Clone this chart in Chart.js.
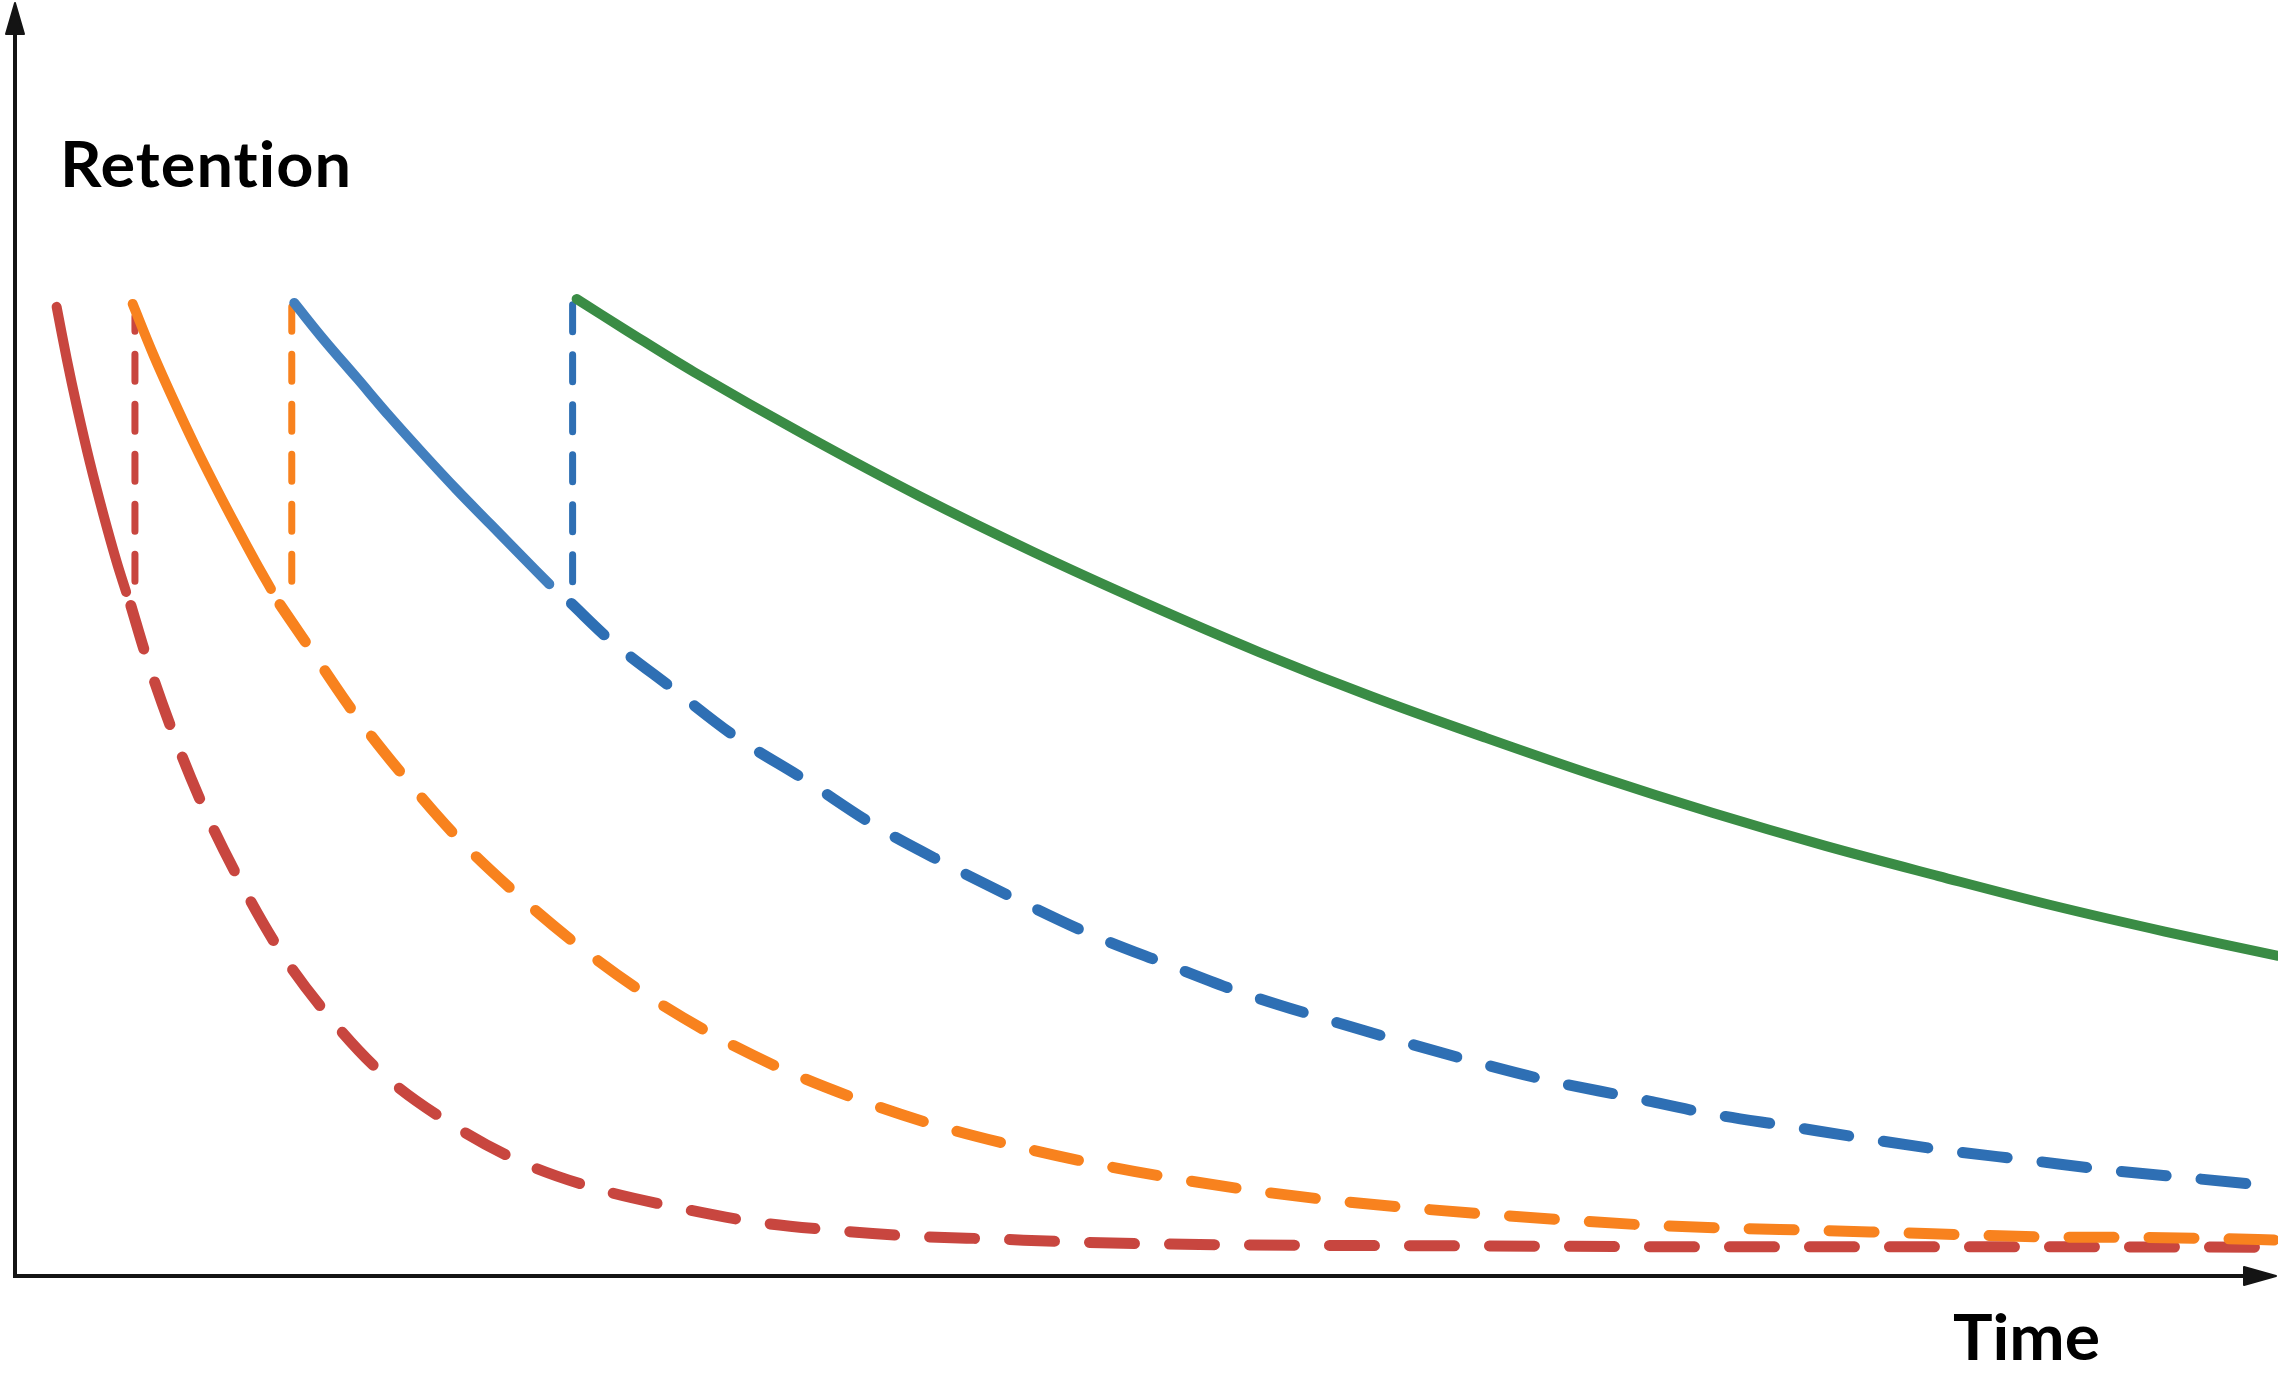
<!DOCTYPE html>
<html>
<head>
<meta charset="utf-8">
<title>Retention</title>
<script src="https://cdn.jsdelivr.net/npm/chart.js@4.4.1/dist/chart.umd.min.js"></script>
<style>
  html, body { margin: 0; padding: 0; background: #ffffff; }
  canvas { display: block; }
</style>
</head>
<body>
<canvas id="myChart" width="2278" height="1388"></canvas>
<script>
// Time runs 0-100 along the axis, retention is % (100 = fresh memory)

// first study
const redSolidTime = [1.84, 2.29, 2.73, 3.31, 3.90, 4.49, 4.91];
const redSolidRet  = [99.6, 94.2, 89.4, 83.6, 78.3, 73.4, 70.3];
const redReviewTime = [5.30, 5.30];
const redReviewRet  = [71.4, 98.6];
const redForgetTime = [5.12, 5.82, 7.00, 8.36, 9.93, 11.71, 13.82, 16.27, 19.15, 22.28, 25.66, 29.13, 32.57, 36.18, 39.67, 43.28, 46.77, 50.38, 57.60, 63.54, 76.38, 89.22, 100];
const redForgetRet  = [68.9, 63.5, 55.7, 48.0, 40.6, 33.4, 26.8, 20.7, 15.8, 11.8, 9.0, 7.1, 5.6, 4.7, 4.1, 3.8, 3.5, 3.3, 3.15, 3.1, 3.0, 3.0, 2.96];

// first review
const orangeSolidTime = [5.20, 6.11, 7.05, 8.00, 8.93, 9.81, 10.65, 11.31];
const orangeSolidRet  = [99.9, 94.7, 89.8, 85.1, 80.8, 76.9, 73.3, 70.6];
const orangeReviewTime = [12.23, 12.23];
const orangeReviewRet  = [71.4, 99.6];
const orangeForgetTime = [11.71, 12.97, 15.00, 17.20, 19.57, 22.10, 24.81, 27.77, 30.76, 33.97, 37.30, 40.68, 44.12, 47.58, 51.06, 54.66, 58.14, 61.65, 65.27, 68.89, 72.40, 76.01, 79.51, 83.13, 86.74, 90.24, 93.74, 97.35, 100];
const orangeForgetRet  = [69.0, 64.7, 57.8, 51.3, 45.0, 39.4, 34.1, 29.1, 24.9, 21.2, 18.1, 15.5, 13.4, 11.6, 10.1, 8.8, 7.8, 7.0, 6.3, 5.7, 5.2, 4.9, 4.7, 4.45, 4.2, 4.0, 3.97, 3.84, 3.7];

// second review
const blueSolidTime = [12.34, 13.62, 15.10, 16.57, 18.04, 19.52, 20.99, 22.46, 23.61];
const blueSolidRet  = [100.0, 96.3, 92.3, 88.3, 84.5, 80.8, 77.3, 73.8, 71.1];
const blueReviewTime = [24.64, 24.64];
const blueReviewRet  = [71.35, 100.7];
const blueForgetTime = [24.59, 26.22, 29.04, 31.85, 34.90, 37.99, 41.09, 44.25, 47.45, 50.83, 54.10, 57.48, 60.98, 64.35, 67.73, 71.34, 74.84, 78.35, 81.84, 85.34, 88.96, 92.46, 95.96, 100];
const blueForgetRet  = [69.1, 65.5, 60.4, 55.4, 51.0, 46.3, 42.4, 38.7, 35.2, 32.1, 29.2, 26.7, 24.3, 22.1, 20.1, 18.4, 16.7, 15.4, 14.1, 12.9, 11.9, 10.9, 10.1, 9.2];

// third review
const greenTime = [24.82, 27.0, 30.0, 35.0, 40.0, 45.0, 50.0, 55.0, 60.0, 65.0, 70.0, 75.0, 80.0, 85.0, 90.0, 95.0, 100];
const greenRet  = [100.4, 97.2, 92.9, 86.3, 80.1, 74.4, 69.1, 64.1, 59.5, 55.3, 51.3, 47.6, 44.2, 41.1, 38.1, 35.4, 32.9];

const axisLabelY = 'Retention';
const axisLabelX = 'Time';

function puntos(tiempos, valores) {
  return tiempos.map((t, i) => ({ x: t, y: valores[i] }));
}

function serie(tiempos, valores, color, tipo) {
  const ds = {
    data: puntos(tiempos, valores),
    borderColor: color,
    borderCapStyle: 'round',
    borderJoinStyle: 'round',
    pointRadius: 0,
    fill: false
  };
  if (tipo === 'solid') {
    ds.borderWidth = 10;
    ds.tension = 0.35;
  } else if (tipo === 'forget') {
    ds.borderWidth = 11;
    ds.borderDash = [45, 35];
    ds.cubicInterpolationMode = 'monotone';
  } else {
    ds.borderWidth = 7;
    ds.borderDash = [27, 23];
    ds.tension = 0;
  }
  return ds;
}

// axes with arrowheads + labels
const ejes = {
  id: 'ejes',
  beforeDatasetsDraw(chart) {
    const ctx = chart.ctx;
    const area = chart.chartArea;
    const x0 = chart.scales.x.getPixelForValue(0);
    const y0 = chart.scales.y.getPixelForValue(0);
    ctx.save();
    ctx.strokeStyle = '#141414';
    ctx.fillStyle = '#141414';
    ctx.lineWidth = 4;
    ctx.beginPath();
    ctx.moveTo(x0, y0 + 2);
    ctx.lineTo(x0, area.top + 20);
    ctx.moveTo(x0 - 2, y0);
    ctx.lineTo(area.right - 30, y0);
    ctx.stroke();
    ctx.lineWidth = 2;
    ctx.lineJoin = 'round';
    ctx.beginPath();
    ctx.moveTo(x0, area.top - 8);
    ctx.lineTo(x0 + 9, area.top + 23);
    ctx.lineTo(x0 - 9, area.top + 23);
    ctx.closePath();
    ctx.fill();
    ctx.stroke();
    ctx.beginPath();
    ctx.moveTo(area.right - 2, y0);
    ctx.lineTo(area.right - 34, y0 - 9);
    ctx.lineTo(area.right - 34, y0 + 9);
    ctx.closePath();
    ctx.fill();
    ctx.stroke();
    ctx.restore();
  },
  afterDraw(chart) {
    const ctx = chart.ctx;
    const area = chart.chartArea;
    ctx.save();
    ctx.fillStyle = '#000000';
    ctx.textBaseline = 'alphabetic';
    ctx.textAlign = 'left';
    ctx.font = 'bold 63px Lato, "Open Sans", sans-serif';
    ctx.letterSpacing = '1px'; // evita la ligadura "ti" de Lato
    let w = ctx.measureText(axisLabelY).width;
    ctx.translate(area.left + 45, 187);
    ctx.scale(292 / w, 1);
    ctx.fillText(axisLabelY, 0, 0);
    ctx.restore();
    ctx.save();
    ctx.fillStyle = '#000000';
    ctx.textBaseline = 'alphabetic';
    ctx.font = 'bold 64px Lato, "Open Sans", sans-serif';
    w = ctx.measureText(axisLabelX).width;
    ctx.translate(1953, area.bottom + 84);
    ctx.scale(147 / w, 1);
    ctx.fillText(axisLabelX, 0, 0);
    ctx.restore();
  }
};

const ctx = document.getElementById('myChart').getContext('2d');

window.chart = new Chart(ctx, {
  type: 'line',
  data: {
    datasets: [
      serie(greenTime, greenRet, '#3A8C45', 'solid'),
      serie(blueReviewTime, blueReviewRet, '#2E6FB4', 'review'),
      serie(blueSolidTime, blueSolidRet, '#427FBE', 'solid'),
      serie(blueForgetTime, blueForgetRet, '#2E6FB4', 'forget'),
      serie(orangeReviewTime, orangeReviewRet, '#F8821E', 'review'),
      serie(orangeSolidTime, orangeSolidRet, '#F8821E', 'solid'),
      serie(orangeForgetTime, orangeForgetRet, '#F8821E', 'forget'),
      serie(redReviewTime, redReviewRet, '#C8463F', 'review'),
      serie(redSolidTime, redSolidRet, '#C8463F', 'solid'),
      serie(redForgetTime, redForgetRet, '#C8463F', 'forget')
    ]
  },
  options: {
    responsive: false,
    devicePixelRatio: 1,
    animation: false,
    layout: {
      padding: { left: 15, right: 0, top: 11, bottom: 112 }
    },
    plugins: {
      legend: { display: false },
      tooltip: { enabled: false }
    },
    scales: {
      x: { type: 'linear', min: 0, max: 100, display: false },
      y: { type: 'linear', min: 0, max: 130, display: false }
    }
  },
  plugins: [ejes]
});
</script>
</body>
</html>
